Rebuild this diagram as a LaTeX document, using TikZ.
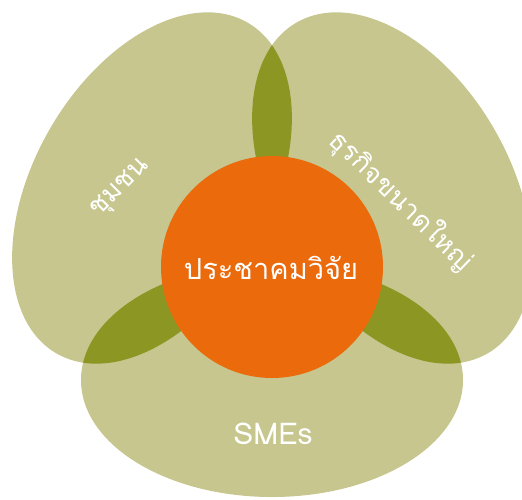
\documentclass[tikz,border=0pt]{standalone}
\usepackage{fontspec}
\newfontfamily\thaifont[Script=Thai]{Loma}
\definecolor{petal}{RGB}{198,198,142}
\definecolor{overlap}{RGB}{140,150,35}
\definecolor{hub}{RGB}{234,106,12}
\tikzset{
  petalfill/.style={fill=petal},
  lensfill/.style={fill=overlap},
  labeltext/.style={text=white, font=\thaifont\fontsize{#1}{#1}\selectfont, inner sep=0pt},
}
\begin{document}
\begin{tikzpicture}[x=1pt,y=-1pt]
\useasboundingbox (0,0) rectangle (522,499);
\clip (0,0) rectangle (522,499);
% petals
\path[petalfill, rotate around={60:(152,188)}] (152,188) ellipse [x radius=191pt, y radius=118pt];
\path[petalfill, rotate around={-60:(392,188)}] (392,188) ellipse [x radius=191pt, y radius=118pt];
\path[petalfill] (272,380) ellipse [x radius=191pt, y radius=117pt];
% overlaps
\begin{scope}
  \clip[rotate around={60:(152,188)}] (152,188) ellipse [x radius=191pt, y radius=118pt];
  \path[lensfill, rotate around={-60:(392,188)}] (392,188) ellipse [x radius=191pt, y radius=118pt];
  \path[lensfill] (272,380) ellipse [x radius=191pt, y radius=117pt];
\end{scope}
\begin{scope}
  \clip[rotate around={-60:(392,188)}] (392,188) ellipse [x radius=191pt, y radius=118pt];
  \path[lensfill] (272,380) ellipse [x radius=191pt, y radius=117pt];
\end{scope}
% hub
\node[circle, fill=hub, minimum size=222pt, inner sep=0pt] (hub) at (272,267) {};
\node[labeltext=29] (hubtext) at (271,268) {ประชาคมวิจัย};
\node[labeltext=27, rotate=45] (community) at (121,189) {ชุมชน};
\node[labeltext=27, rotate=-44] (bigbiz) at (401,201) {ธุรกิจขนาดใหญ่};
\node[labeltext=30] (smes) at (273,434) {SMEs};
\end{tikzpicture}
\end{document}
